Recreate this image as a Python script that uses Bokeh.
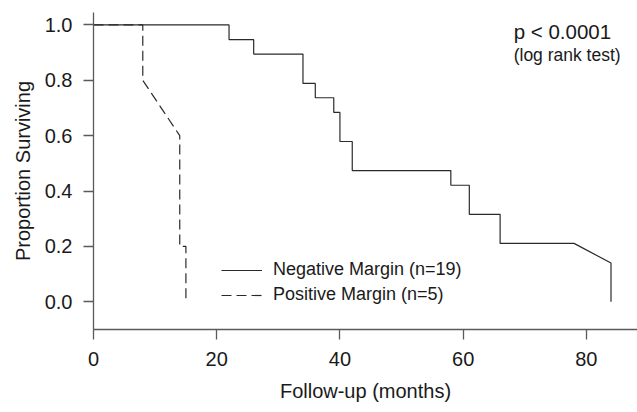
from bokeh.plotting import figure
from bokeh.models import Range1d, FixedTicker, Legend, LegendItem, Label, NumeralTickFormatter, Title
from bokeh.embed import file_html
from bokeh.resources import INLINE

# Kaplan-Meier style survival curves (months, proportion surviving)
neg_months = [0, 22, 22, 26, 26, 34, 34, 36, 36, 39, 39, 40, 40, 42, 42, 58, 58, 61, 61, 66, 66, 78, 84, 84]
neg_surv = [1.0, 1.0, 0.947, 0.947, 0.895, 0.895, 0.789, 0.789, 0.737, 0.737, 0.684, 0.684, 0.579, 0.579,
            0.474, 0.474, 0.421, 0.421, 0.316, 0.316, 0.211, 0.211, 0.14, 0.0]
pos_months = [0, 8, 8, 14, 14, 15, 15]
pos_surv = [1.0, 1.0, 0.8, 0.6, 0.2, 0.2, 0.0]

neg_label = "Negative Margin (n=19)"
pos_label = "Positive Margin (n=5)"
x_title = "Follow-up (months)"
y_title = "Proportion Surviving"
x_ticks = [0, 20, 40, 60, 80]
y_ticks = [0.0, 0.2, 0.4, 0.6, 0.8, 1.0]

FONT = "Liberation Sans"
LINE = "#2a2a2a"
AXIS = "#5a5a5a"
TXT = "#1a1a1a"

p = figure(width=637, height=412, output_backend="svg", toolbar_location=None,
           x_range=Range1d(0, 88.3), y_range=Range1d(-0.1, 1.045),
           min_border_left=93, min_border_right=0, min_border_top=12, min_border_bottom=83)
p.outline_line_color = None
p.grid.visible = False
p.background_fill_color = "white"

r_neg = p.line(neg_months, neg_surv, line_color=LINE, line_width=1.2)
r_pos = p.line(pos_months, pos_surv, line_color=LINE, line_width=1.2, line_dash="10 5")

for ax in (p.xaxis[0], p.yaxis[0]):
    ax.axis_line_color = AXIS
    ax.axis_line_width = 1.3
    ax.major_tick_line_color = AXIS
    ax.major_tick_line_width = 1.3
    ax.major_tick_out = 10
    ax.major_tick_in = 0
    ax.minor_tick_out = 0
    ax.minor_tick_in = 0
    ax.major_label_text_font = FONT
    ax.major_label_text_font_size = "20px"
    ax.major_label_text_color = TXT

p.xaxis.ticker = FixedTicker(ticks=x_ticks)
p.yaxis.ticker = FixedTicker(ticks=y_ticks)
p.yaxis.formatter = NumeralTickFormatter(format="0.0")
p.xaxis.major_label_standoff = 12
p.yaxis.major_label_standoff = 11

# axis titles as side titles so they can be offset like the reference
p.add_layout(Title(text=x_title, align="center", offset=5, standoff=19, text_font=FONT,
                   text_font_size="20px", text_font_style="normal", text_color=TXT), "below")
p.add_layout(Title(text=y_title, align="center", offset=9, standoff=16, text_font=FONT,
                   text_font_size="20px", text_font_style="normal", text_color=TXT), "left")

legend = Legend(items=[LegendItem(label=neg_label, renderers=[r_neg]),
                       LegendItem(label=pos_label, renderers=[r_pos])],
                location=(128, 24), padding=0, margin=0, spacing=4,
                glyph_width=41, glyph_height=20, label_height=20, label_standoff=11,
                label_text_font=FONT, label_text_font_size="18px", label_text_color=TXT,
                border_line_color=None, background_fill_alpha=0)
p.add_layout(legend, "center")

p.add_layout(Label(x=68.2, y=0.978, text="p < 0.0001", text_font=FONT, text_font_size="20.5px",
                   text_color=TXT, text_baseline="alphabetic"))
p.add_layout(Label(x=68.2, y=0.892, text="(log rank test)", text_font=FONT, text_font_size="17.5px",
                   text_color=TXT, text_baseline="alphabetic"))

open("out.html", "w").write(file_html(p, INLINE))
